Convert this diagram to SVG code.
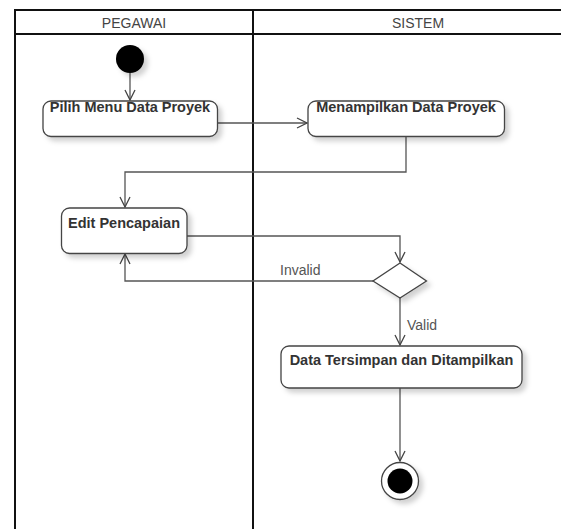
<svg xmlns="http://www.w3.org/2000/svg" width="561" height="529" viewBox="0 0 561 529">
<style>
.lane{stroke:#111;stroke-width:2;fill:none}
.hdr{font-family:"Liberation Sans",Arial,sans-serif;font-size:14px;fill:#444;text-anchor:middle}
.act{fill:#fff;stroke:#444;stroke-width:1.3}
.lbl{font-family:"Liberation Sans",Arial,sans-serif;font-size:14.5px;font-weight:bold;fill:#333;text-anchor:middle}
.edge{fill:none;stroke:#555;stroke-width:1.3}
.guard{font-family:"Liberation Sans",Arial,sans-serif;font-size:14px;fill:#555}
</style>
<defs>
<marker id="arr" viewBox="0 0 12 12" refX="11" refY="6" markerWidth="12" markerHeight="12" markerUnits="userSpaceOnUse" orient="auto">
<path d="M1,1 L11,6 L1,11" fill="none" stroke="#444" stroke-width="1.3"/>
</marker>
<filter id="sh" x="-20%" y="-20%" width="150%" height="160%">
<feDropShadow dx="4" dy="4" stdDeviation="2.5" flood-color="#000" flood-opacity="0.18"/>
</filter>
</defs>
<rect width="561" height="529" fill="#fff"/>
<g id="lanes">
<line class="lane" x1="15" y1="10" x2="561" y2="10"/>
<line class="lane" x1="15" y1="34" x2="561" y2="34"/>
<line class="lane" x1="15" y1="9" x2="15" y2="529"/>
<line class="lane" x1="253" y1="9" x2="253" y2="529"/>
<text class="hdr" x="134" y="28">PEGAWAI</text>
<text class="hdr" x="418" y="28">SISTEM</text>
</g>
<g id="connectors">
<path class="edge" d="M130,73 L130,100" marker-end="url(#arr)"/>
<path class="edge" d="M217.5,123 L307,123" marker-end="url(#arr)"/>
<path class="edge" d="M406,136.5 L406,172 L125,172 L125,207" marker-end="url(#arr)"/>
<path class="edge" d="M187,236 L400,236 L400,262" marker-end="url(#arr)"/>
<path class="edge" d="M373,281 L125,281 L125,254" marker-end="url(#arr)"/>
<path class="edge" d="M400,298 L400,345" marker-end="url(#arr)"/>
<path class="edge" d="M400,388 L400,461" marker-end="url(#arr)"/>
<text class="guard" x="280" y="275">Invalid</text>
<text class="guard" x="407" y="330">Valid</text>
</g>
<g id="start">
<circle cx="130" cy="59" r="14" fill="#000" filter="url(#sh)"/>
</g>
<g id="pilih">
<rect class="act" x="43" y="101" width="174.5" height="35.5" rx="8" filter="url(#sh)"/>
<text class="lbl" x="130" y="112">Pilih Menu Data Proyek</text>
</g>
<g id="menampilkan">
<rect class="act" x="308" y="101" width="196.5" height="35.5" rx="8" filter="url(#sh)"/>
<text class="lbl" x="406" y="112">Menampilkan Data Proyek</text>
</g>
<g id="edit">
<rect class="act" x="61.5" y="208" width="125.5" height="45.5" rx="8" filter="url(#sh)"/>
<text class="lbl" x="124" y="228">Edit Pencapaian</text>
</g>
<g id="decision">
<polygon class="act" points="400,263 426.5,281 400,298 373,281" filter="url(#sh)"/>
</g>
<g id="tersimpan">
<rect class="act" x="281" y="346" width="241" height="42" rx="8" filter="url(#sh)"/>
<text class="lbl" x="401.5" y="365">Data Tersimpan dan Ditampilkan</text>
</g>
<g id="end">
<circle cx="400" cy="481" r="18.5" fill="#fff" stroke="#444" stroke-width="1.3" filter="url(#sh)"/>
<circle cx="400" cy="481" r="12.5" fill="#000"/>
</g>
</svg>
